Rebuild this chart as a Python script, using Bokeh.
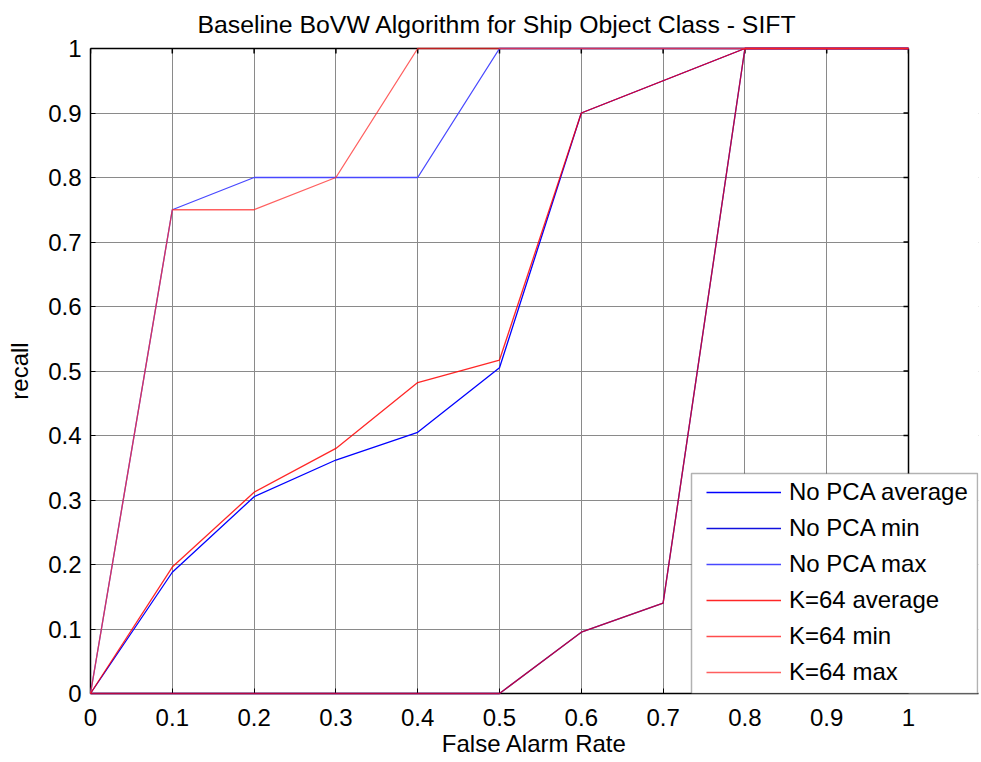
import math
from bokeh.plotting import figure
from bokeh.models import (FixedTicker, LinearAxis, Legend, LegendItem, Range1d,
                          Span, BoxAnnotation)
from bokeh.embed import file_html
from bokeh.resources import INLINE

TITLE = "Baseline BoVW Algorithm for Ship Object Class - SIFT"
X_LABEL = "False Alarm Rate"
Y_LABEL = "recall"

# data
far = [0.0, 0.1, 0.2, 0.3, 0.4, 0.5, 0.6, 0.7, 0.8, 0.9, 1.0]
nopca_avg = [0.0, 0.188, 0.305, 0.362, 0.405, 0.505, 0.90, 0.95, 1.0, 1.0, 1.0]
nopca_min = [0.0, 0.0, 0.0, 0.0, 0.0, 0.0, 0.095, 0.14, 1.0, 1.0, 1.0]
nopca_max = [0.0, 0.75, 0.80, 0.80, 0.80, 1.0, 1.0, 1.0, 1.0, 1.0, 1.0]
k64_avg = [0.0, 0.196, 0.312, 0.380, 0.482, 0.517, 0.90, 0.95, 1.0, 1.0, 1.0]
k64_min = [0.0, 0.0, 0.0, 0.0, 0.0, 0.0, 0.095, 0.14, 1.0, 1.0, 1.0]
k64_max = [0.0, 0.75, 0.75, 0.80, 1.0, 1.0, 1.0, 1.0, 1.0, 1.0, 1.0]

series_names = ["No PCA average", "No PCA min", "No PCA max",
                "K=64 average", "K=64 min", "K=64 max"]
series_values = [nopca_avg, nopca_min, nopca_max, k64_avg, k64_min, k64_max]
series_colors = ["#0000ff", "#1010dd", "#4848ff", "#ff0000", "#ff0000", "#ff2a2a"]
series_alpha = [1.0, 1.0, 1.0, 0.85, 0.7, 0.75]

ticks = [0, 0.1, 0.2, 0.3, 0.4, 0.5, 0.6, 0.7, 0.8, 0.9, 1]
tick_labels = ["0", "0.1", "0.2", "0.3", "0.4", "0.5", "0.6", "0.7", "0.8", "0.9", "1"]

FONT = "Liberation Sans"
FS = "24px"

# axes box spans x 0..1 (818 px); the frame continues to the right so the
# legend can stick out past the right border, as in the original
BOX_W, BOX_H = 818, 645
FRAME_W = 888
X_END = FRAME_W / BOX_W
# legend box, in pixels from the bottom-left of the axes box
LEG_L, LEG_R, LEG_T = 601, 887, 220

p = figure(frame_width=FRAME_W, frame_height=BOX_H,
           min_border_left=90, min_border_right=3, min_border_top=48, min_border_bottom=69,
           x_range=Range1d(0, X_END), y_range=Range1d(0, 1),
           output_backend="svg", toolbar_location=None,
           title=TITLE, x_axis_label=X_LABEL, y_axis_label=Y_LABEL)

p.title.text_font = FONT
p.title.text_font_size = "24.8px"
p.title.text_font_style = "normal"
p.title.text_color = "black"
p.title.align = "left"
p.title.offset = 107
p.title.vertical_align = "top"
p.title.standoff = 17
p.outline_line_color = None
p.background_fill_color = "white"
p.border_fill_color = "white"

overrides = dict(zip(ticks, tick_labels))
for ax in [p.xaxis[0], p.yaxis[0]]:
    ax.ticker = FixedTicker(ticks=ticks)
    ax.major_label_overrides = overrides
    ax.major_tick_in = 5
    ax.major_tick_out = 0
    ax.minor_tick_in = 0
    ax.minor_tick_out = 0
    ax.axis_line_width = 1.5
    ax.axis_line_color = "black"
    ax.major_tick_line_color = "black"
    ax.major_label_text_font = FONT
    ax.major_label_text_font_size = FS
    ax.major_label_text_color = "black"
    ax.axis_label_text_font = FONT
    ax.axis_label_text_font_size = FS
    ax.axis_label_text_font_style = "normal"
    ax.axis_label_text_color = "black"

p.xaxis[0].major_label_standoff = 15
p.xaxis[0].axis_label_standoff = 1
p.yaxis[0].major_label_standoff = 9
p.yaxis[0].axis_label_standoff = 12

# top border of the axes box (line only, from 0 to 1)
top_ax = LinearAxis(ticker=FixedTicker(ticks=[]), major_tick_in=0, major_tick_out=0,
                    minor_tick_in=0, minor_tick_out=0, axis_line_width=1.5,
                    axis_line_color="black", bounds=(0, 1), major_label_standoff=0)
p.add_layout(top_ax, "above")

p.xgrid.ticker = FixedTicker(ticks=ticks)
p.ygrid.ticker = FixedTicker(ticks=ticks)
p.grid.grid_line_color = "#8a8a8a"
p.grid.grid_line_width = 1
p.grid.grid_line_alpha = 1.0

# blank the area right of the axes box
p.add_layout(BoxAnnotation(left=1, right=X_END, bottom=0, top=1, fill_color="white",
                           fill_alpha=1.0, line_color=None))
# right border of the axes box
p.add_layout(Span(location=1, dimension="height", line_color="black", line_width=1.5))
# inward ticks on the top and right borders
n = len(ticks)
p.ray(x=[1] * n, y=ticks, length=5, angle=math.pi, length_units="screen",
      line_color="black", line_width=1.5)
p.ray(x=ticks, y=[1] * n, length=5, angle=-math.pi / 2, length_units="screen",
      line_color="black", line_width=1.5)

renderers = []
for name, vals, col, a in zip(series_names, series_values, series_colors, series_alpha):
    r = p.line(far, vals, line_color=col, line_width=1.3, line_alpha=a, level="overlay")
    renderers.append(r)

# legend frame
p.add_layout(BoxAnnotation(left=LEG_L / BOX_W, right=LEG_R / BOX_W, bottom=0,
                           top=LEG_T / BOX_H, fill_color="white", fill_alpha=1.0,
                           line_color="black", line_width=1.5))

legend = Legend(items=[LegendItem(label=nm, renderers=[r]) for nm, r in zip(series_names, renderers)],
                location=(616, 3), border_line_color=None, background_fill_alpha=0,
                padding=0, margin=0, spacing=0, label_height=36, glyph_height=36,
                glyph_width=75, label_standoff=8,
                label_text_font=FONT, label_text_font_size=FS, label_text_color="black")
p.add_layout(legend)

open("out.html", "w").write(file_html(p, INLINE))
